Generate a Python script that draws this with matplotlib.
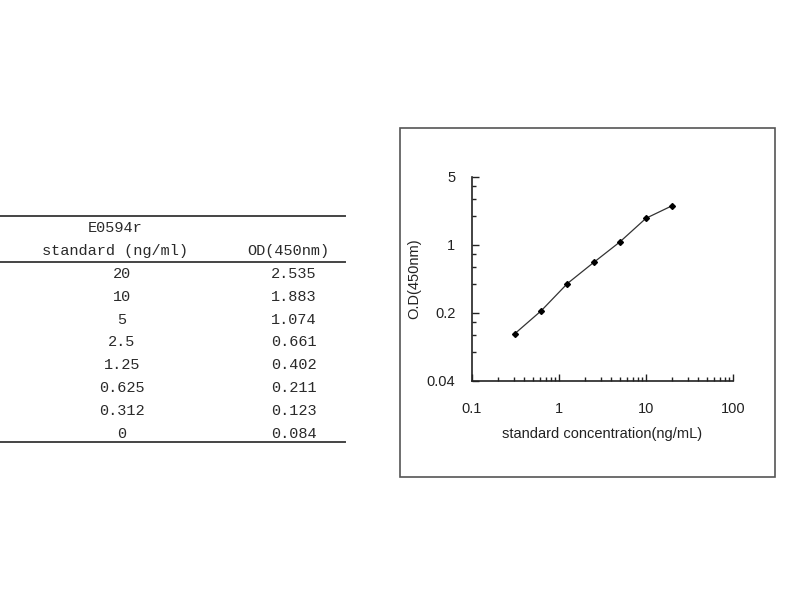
import matplotlib
matplotlib.use('Agg')
from matplotlib import pyplot as plt
from matplotlib.lines import Line2D
from matplotlib.patches import Rectangle
from matplotlib.ticker import FixedLocator, NullFormatter

# Dados da curva padrão
std_labels = ['20', '10', '5', '2.5', '1.25', '0.625', '0.312', '0']
od_labels = ['2.535', '1.883', '1.074', '0.661', '0.402', '0.211', '0.123', '0.084']
concentration = [20, 10, 5, 2.5, 1.25, 0.625, 0.312]
od = [2.535, 1.883, 1.074, 0.661, 0.402, 0.211, 0.123]

x_ticks = [0.1, 1, 10, 100]
x_tick_labels = ['0.1', '1', '10', '100']
y_ticks = [0.04, 0.2, 1, 5]
y_tick_labels = ['0.04', '0.2', '1', '5']

W, H = 800, 600
fig = plt.figure(figsize=(8, 6), dpi=100)


def fx(px):
    return px / W


def fy(py):
    return 1 - py / H


# Tabela à esquerda
table_font = dict(family='Liberation Mono', fontsize=11, color='#2a2a2a')
line_kw = dict(color='#444444', linewidth=1.4, transform=fig.transFigure)
for py in [216, 262, 442]:
    fig.add_artist(Line2D([fx(0), fx(345)], [fy(py), fy(py)], **line_kw))

fig.text(fx(115), fy(228), 'E0594r', ha='center', va='center', **table_font)
fig.text(fx(115), fy(251), 'standard (ng/ml)', ha='center', va='center', **table_font)
fig.text(fx(288), fy(251), 'OD(450nm)', ha='center', va='center', **table_font)

row_y0, row_step = 274, 22.8
for i, (s, o) in enumerate(zip(std_labels, od_labels)):
    y = fy(row_y0 + i * row_step)
    fig.text(fx(122), y, s, ha='center', va='center', **table_font)
    fig.text(fx(294), y, o, ha='center', va='center', **table_font)

# Moldura do gráfico
fig.add_artist(Rectangle((fx(400), fy(477)), fx(375), (477 - 128) / H,
                         transform=fig.transFigure, fill=False,
                         edgecolor='#555555', linewidth=1.2))

# Gráfico
ax = fig.add_axes([fx(472), fy(381), fx(733 - 472), (381 - 177) / H])
ax.plot(concentration, od, color='#333333', linewidth=0.9,
        marker='D', markersize=3, markerfacecolor='black', markeredgecolor='black')
ax.set_xscale('log')
ax.set_yscale('log')
ax.set_xlim(0.1, 100)
ax.set_ylim(0.04, 5)

ax.xaxis.set_major_locator(FixedLocator(x_ticks))
ax.set_xticklabels(x_tick_labels)
x_minor = [m * d for d in [0.1, 1, 10] for m in range(2, 10)]
ax.xaxis.set_minor_locator(FixedLocator(x_minor))
ax.xaxis.set_minor_formatter(NullFormatter())

ax.yaxis.set_major_locator(FixedLocator(y_ticks))
ax.set_yticklabels(y_tick_labels)
y_minor = [m * d for d in [0.04, 0.2, 1] for m in (2, 3, 4)]
ax.yaxis.set_minor_locator(FixedLocator(y_minor))
ax.yaxis.set_minor_formatter(NullFormatter())

for s in ['top', 'right']:
    ax.spines[s].set_visible(False)
for s in ['left', 'bottom']:
    ax.spines[s].set_linewidth(1.2)
    ax.spines[s].set_color('#222222')

ax.tick_params(axis='both', which='both', direction='in', colors='#222222',
               labelsize=10.5, width=1)
ax.tick_params(axis='both', which='major', length=5)
ax.tick_params(axis='both', which='minor', length=3)
ax.tick_params(axis='x', which='major', pad=15)
ax.tick_params(axis='y', which='major', pad=12)
for lab in ax.get_xticklabels() + ax.get_yticklabels():
    lab.set_family('Liberation Sans')

ax.set_xlabel('standard concentration(ng/mL)', family='Liberation Sans',
              fontsize=10.5, color='#222222', labelpad=8)
ax.set_ylabel('O.D(450nm)', family='Liberation Sans',
              fontsize=10.5, color='#222222', labelpad=4)

fig.savefig('out.png', dpi=100)
